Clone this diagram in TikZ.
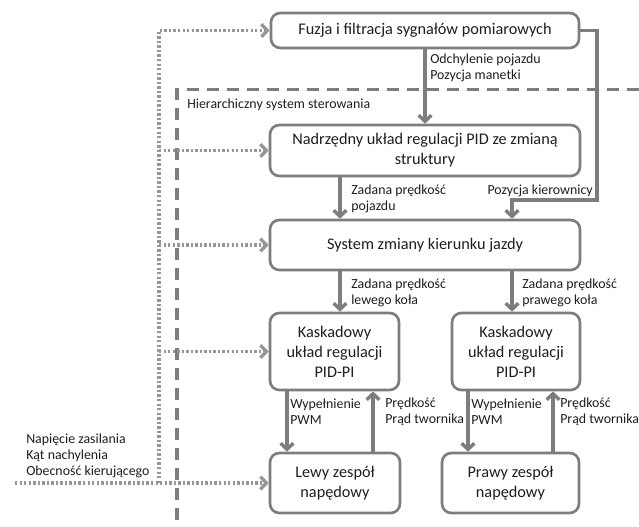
\documentclass[tikz,border=0pt]{standalone}
\usepackage{fontspec}
\setmainfont{Carlito}
\usetikzlibrary{arrows.meta}
\definecolor{linia}{RGB}{125,125,125}
\definecolor{kropki}{RGB}{150,150,150}
\definecolor{tekst}{RGB}{30,30,30}
\newcommand{\pxl}{0.75pt}
\tikzset{
  blok/.style={draw=linia, line width=2pt, rounded corners=7pt, fill=white,
    align=center, text=tekst, inner sep=2pt,
    font=\fontsize{12.2}{15}\selectfont},
  sygnal/.style={draw=linia, line width=2.6pt,
    -{Straight Barb[length=4.5pt,width=9.5pt]}},
  pomiar/.style={draw=kropki, line width=2.5pt, dash pattern=on 1.8pt off 1.6pt,
    -{Straight Barb[length=4.5pt,width=9.5pt]}},
  opis/.style={align=left, anchor=west, inner sep=0pt, text=tekst,
    font=\fontsize{10.4}{12}\selectfont},
}
\begin{document}
\begin{tikzpicture}[x=0.75pt,y=-0.75pt]
    \useasboundingbox (0,0) rectangle (639,526);

    % Define las columnas de las conexiones
    \coordinate (kolL) at (340,0);
    \coordinate (kolP) at (512,0);
    \coordinate (pwmKolL) at (287,0);
    \coordinate (predKolL) at (373,0);
    \coordinate (pwmKolP) at (468,0);
    \coordinate (predKolP) at (553,0);
    \coordinate (szyna) at (159,0);
    \coordinate (zakret) at (597,200);
    \coordinate (wejscie) at (15,483);

    % Dibuja el marco del sistema jerarquico
    \draw[linia, line width=2.4pt, dash pattern=on 9pt off 6pt] (639,89.5) -| (177,530);
    \node[opis] (hier) at (187,105) {Hierarchiczny system sterowania};

    % Dibuja los bloques
    \node[blok, minimum width=308*\pxl, minimum height=35*\pxl] (fuzja) at (425,30.5)
        {Fuzja i filtracja sygnałów pomiarowych};
    \node[blok, minimum width=310*\pxl, minimum height=51*\pxl] (nadrz) at (425,150.5)
        {Nadrzędny układ regulacji PID ze zmianą\\struktury};
    \node[blok, minimum width=310*\pxl, minimum height=50*\pxl] (kier) at (425,245)
        {System zmiany kierunku jazdy};
    \node[blok, minimum width=129*\pxl, minimum height=77*\pxl] (kaskL) at (334.5,351.5)
        {Kaskadowy\\układ regulacji\\PID-PI};
    \node[blok, minimum width=128*\pxl, minimum height=77*\pxl] (kaskP) at (516,351.5)
        {Kaskadowy\\układ regulacji\\PID-PI};
    \node[blok, minimum width=130*\pxl, minimum height=60*\pxl] (lewy) at (335,483)
        {Lewy zespół\\napędowy};
    \node[blok, minimum width=137*\pxl, minimum height=60*\pxl] (prawy) at (510.5,483)
        {Prawy zespół\\napędowy};

    % Dibuja las senales entre bloques
    \draw[sygnal] (fuzja.south) -- (nadrz.north);
    \draw[sygnal] (fuzja.east) -| (zakret) -| (kier.north -| kolP);
    \draw[sygnal] (nadrz.south -| kolL) -- (kier.north -| kolL);
    \draw[sygnal] (kier.south -| kolL) -- (kaskL.north -| kolL);
    \draw[sygnal] (kier.south -| kolP) -- (kaskP.north -| kolP);
    \draw[sygnal] (kaskL.south -| pwmKolL) -- (lewy.north -| pwmKolL);
    \draw[sygnal] (lewy.north -| predKolL) -- (kaskL.south -| predKolL);
    \draw[sygnal] (kaskP.south -| pwmKolP) -- (prawy.north -| pwmKolP);
    \draw[sygnal] (prawy.north -| predKolP) -- (kaskP.south -| predKolP);

    % Dibuja las lineas de medicion
    \draw[pomiar] (wejscie) -- (lewy.west);
    \draw[pomiar] (lewy.west -| szyna) |- (fuzja.west);
    \foreach \b in {nadrz,kier,kaskL}
        \draw[pomiar] (\b.west -| szyna) -- (\b.west);

    % Etiquetas de las senales
    \node[opis] (odchyl) at (430,68) {Odchylenie pojazdu\\Pozycja manetki};
    \node[opis] (zadPoj) at (351,199) {Zadana prędkość\\pojazdu};
    \node[opis, anchor=east] (pozKier) at (593,191) {Pozycja kierownicy};
    \node[opis] (zadL) at (351,293) {Zadana prędkość\\lewego koła};
    \node[opis] (zadP) at (522,293) {Zadana prędkość\\prawego koła};
    \node[opis] (pwmL) at (290,412) {Wypełnienie\\PWM};
    \node[opis] (predL) at (385,412) {Prędkość\\Prąd twornika};
    \node[opis] (pwmP) at (471,412) {Wypełnienie\\PWM};
    \node[opis] (predP) at (560,412) {Prędkość\\Prąd twornika};
    \node[opis] (zasil) at (26,456) {Napięcie zasilania\\Kąt nachylenia\\Obecność kierującego};
\end{tikzpicture}
\end{document}
